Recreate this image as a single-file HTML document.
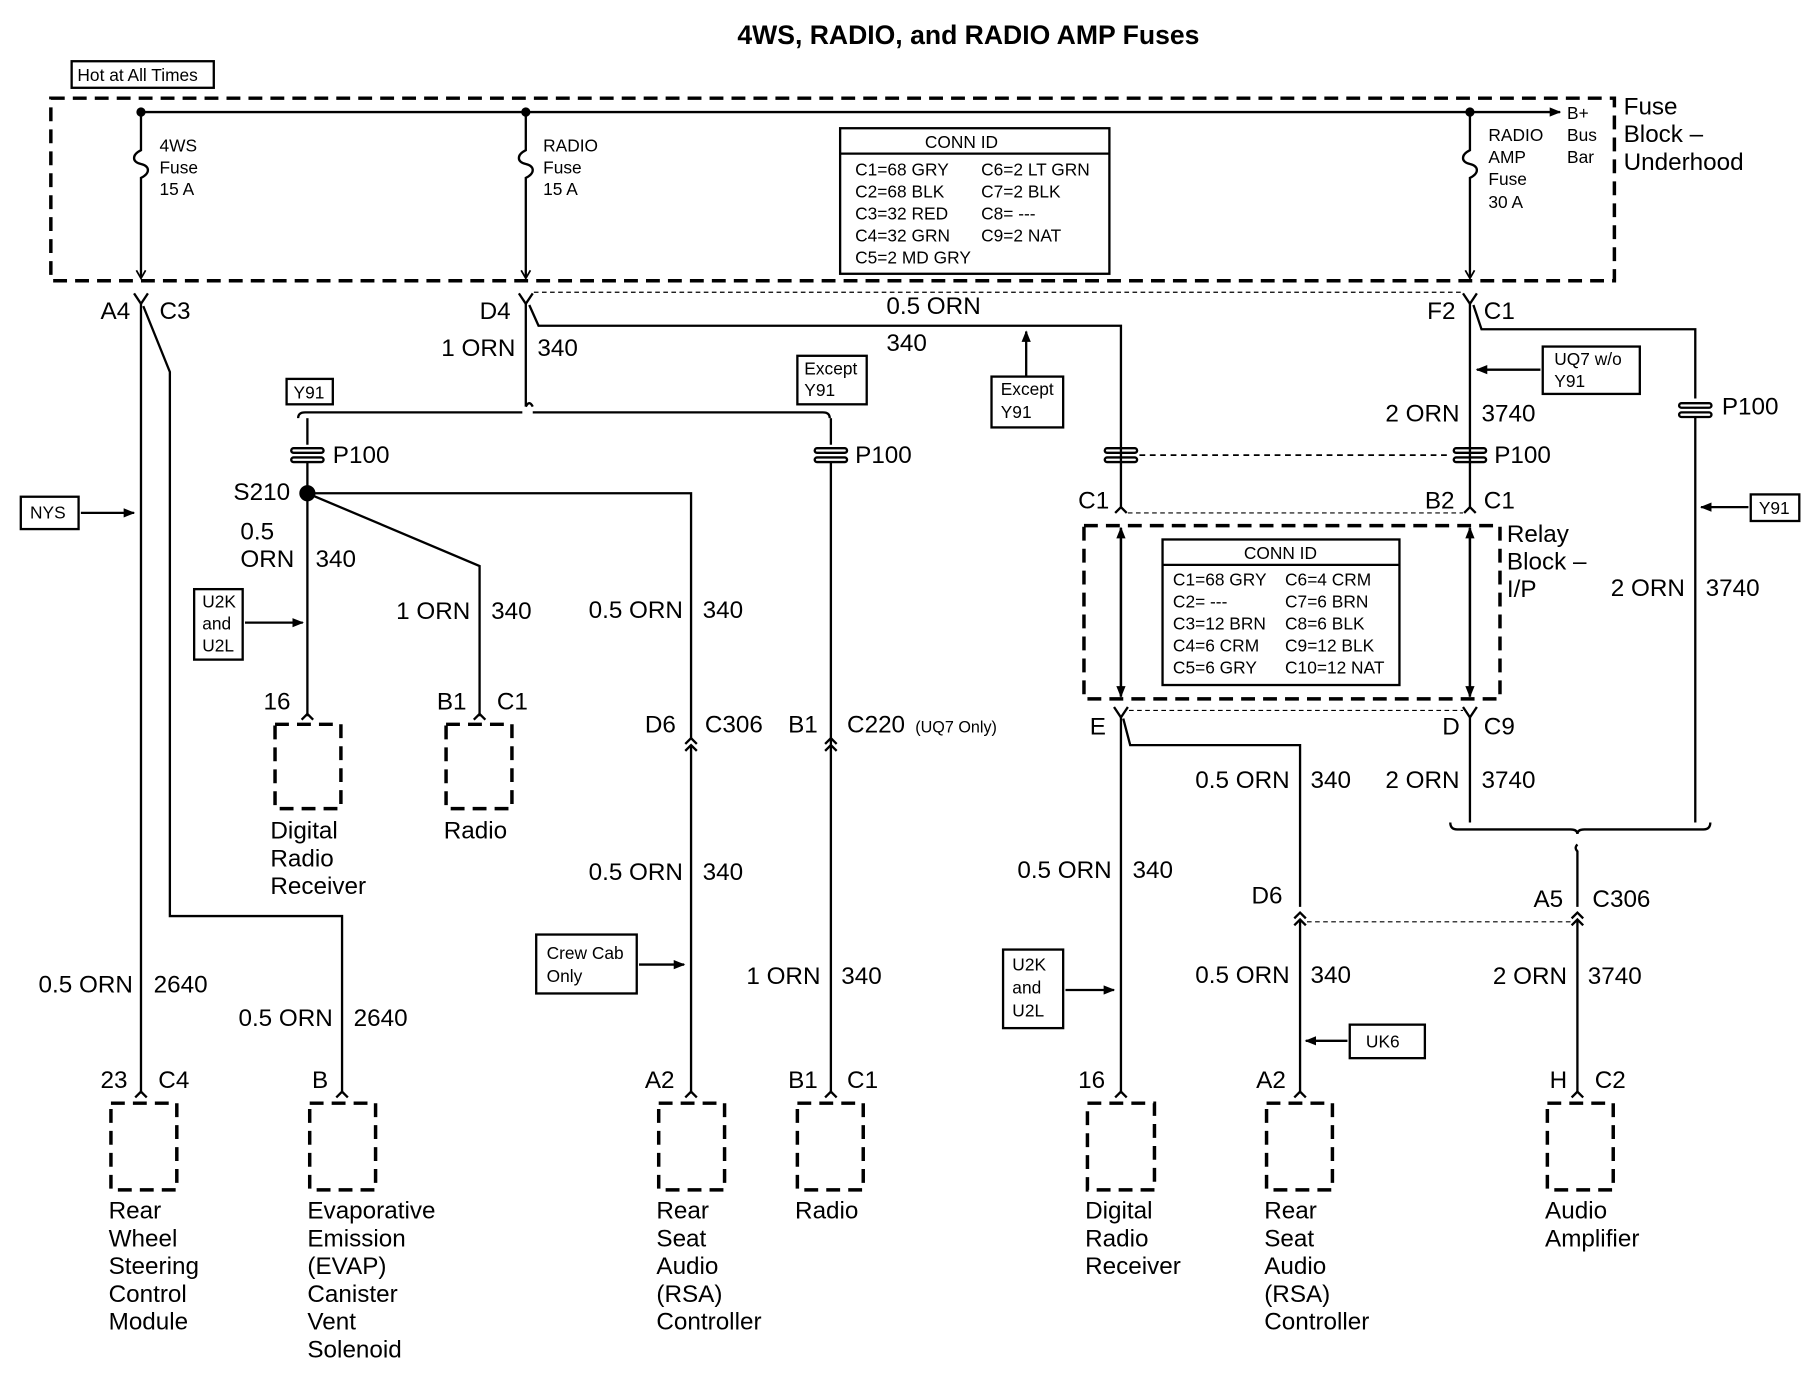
<!DOCTYPE html>
<html><head><meta charset="utf-8"><style>
html,body{margin:0;padding:0;background:#fff}
svg{display:block}
text{font-family:"Liberation Sans",sans-serif;fill:#000}
.b{font-size:21px}.s{font-size:15px}.t{font-size:14px}
</style></head><body>
<svg width="1812" height="1392" viewBox="0 0 1568 1205" preserveAspectRatio="none" xmlns="http://www.w3.org/2000/svg">
<defs>
<marker id="ar" markerWidth="10" markerHeight="10" refX="9" refY="5" orient="auto" markerUnits="userSpaceOnUse"><path d="M0,1 L10,5 L0,9 z" fill="#000"/></marker>
</defs>
<g stroke="#000" fill="none" stroke-width="2">
<text x="838" y="38" text-anchor="middle" style="font-size:23px;font-weight:bold" stroke="none">4WS, RADIO, and RADIO AMP Fuses</text>
<rect x="62" y="53" width="123" height="23" stroke-width="2"/>
<rect x="44" y="85" width="1353" height="158" stroke-width="3" stroke-dasharray="12,7"/>
<line x1="122" y1="97" x2="1350" y2="97" marker-end="url(#ar)"/>
<circle cx="122" cy="97" r="3" fill="#000"/><circle cx="455" cy="97" r="3" fill="#000"/><circle cx="1272" cy="97" r="3" fill="#000"/>
<path d="M122,97 V130 c-8,4 -8,10 0,12 c8,2 8,8 0,12 V240"/>
<path d="M455,97 V130 c-8,4 -8,10 0,12 c8,2 8,8 0,12 V240"/>
<path d="M1272,97 V130 c-8,4 -8,10 0,12 c8,2 8,8 0,12 V240"/>
<path d="M118,234 L122,241 L126,234 M451,234 L455,241 L459,234 M1268,234 L1272,241 L1276,234" stroke-width="1.5"/>
<rect x="727" y="111" width="233" height="126"/><line x1="727" y1="133" x2="960" y2="133"/>
<path d="M116,254 L122,263 L128,254"/>
<line x1="122" y1="263" x2="122" y2="945"/>
<path d="M124,265 L147,322 V793 H296 V945"/>
<rect x="18" y="430" width="50" height="28"/><line x1="70" y1="444" x2="116" y2="444" marker-end="url(#ar)"/>
<path d="M449,254 L455,263 L461,254"/>
<line x1="455" y1="263" x2="455" y2="352"/>
<path d="M455,352 q3,-6 6,0"/>
<path d="M458,264 L466,282 H970 V440"/>
<line x1="462" y1="253" x2="1266" y2="253" stroke-width="1" stroke-dasharray="4,3"/>
<rect x="858" y="326" width="62" height="44"/><line x1="888" y1="326" x2="888" y2="287" marker-end="url(#ar)"/>
<path d="M258,362 q0,-5 6,-5 H452 M461,357 H712 q6,0 6,5"/>
<rect x="248" y="328" width="40" height="22"/><rect x="690" y="308" width="60" height="42"/>
<line x1="266" y1="362" x2="266" y2="385"/>
<rect x="252" y="388" width="28" height="4" rx="2"/><rect x="252" y="396" width="28" height="4" rx="2"/>
<line x1="266" y1="400" x2="266" y2="620"/>
<circle cx="266" cy="427" r="6" fill="#000"/>
<path d="M266,427 H598 V640"/>
<path d="M266,427 L415,490 V620"/>
<rect x="168" y="510" width="42" height="61"/><line x1="212" y1="539" x2="262" y2="539" marker-end="url(#ar)"/>
<path d="M261,623 L266,618 L271,623 M410,623 L415,618 L420,623"/>
<rect x="238" y="627" width="57" height="73" stroke-width="3" stroke-dasharray="12,7"/>
<rect x="386" y="627" width="57" height="73" stroke-width="3" stroke-dasharray="12,7"/>
<path d="M593,644 L598,639 L603,644 M593,650 L598,645 L603,650"/>
<line x1="598" y1="645" x2="598" y2="945"/>
<rect x="464" y="809" width="87" height="51"/><line x1="553" y1="835" x2="592" y2="835" marker-end="url(#ar)"/>
<line x1="719" y1="362" x2="719" y2="385"/>
<rect x="705" y="388" width="28" height="4" rx="2"/><rect x="705" y="396" width="28" height="4" rx="2"/>
<line x1="719" y1="400" x2="719" y2="945"/>
<path d="M714,644 L719,639 L724,644 M714,650 L719,645 L724,650"/>
<path d="M117,950 L122,945 L127,950 M291,950 L296,945 L301,950 M593,950 L598,945 L603,950 M714,950 L719,945 L724,950 M965,950 L970,945 L975,950 M1120,950 L1125,945 L1130,950 M1360,950 L1365,945 L1370,950"/>
<rect x="96" y="955" width="57" height="75" stroke-width="3" stroke-dasharray="12,7"/>
<rect x="268" y="955" width="57" height="75" stroke-width="3" stroke-dasharray="12,7"/>
<rect x="570" y="955" width="57" height="75" stroke-width="3" stroke-dasharray="12,7"/>
<rect x="690" y="955" width="57" height="75" stroke-width="3" stroke-dasharray="12,7"/>
<rect x="941" y="955" width="58" height="75" stroke-width="3" stroke-dasharray="12,7"/>
<rect x="1096" y="955" width="57" height="75" stroke-width="3" stroke-dasharray="12,7"/>
<rect x="1339" y="955" width="57" height="75" stroke-width="3" stroke-dasharray="12,7"/>
<rect x="956" y="388" width="28" height="4" rx="2"/><rect x="956" y="396" width="28" height="4" rx="2"/>
<rect x="1258" y="388" width="28" height="4" rx="2"/><rect x="1258" y="396" width="28" height="4" rx="2"/>
<line x1="986" y1="394" x2="1256" y2="394" stroke-dasharray="5,4" stroke-width="1.5"/>
<line x1="1272" y1="263" x2="1272" y2="440"/>
<path d="M1266,254 L1272,263 L1278,254"/>
<path d="M1275,264 L1282,285 H1467 V345"/>
<rect x="1453" y="349" width="28" height="4" rx="2"/><rect x="1453" y="357" width="28" height="4" rx="2"/>
<line x1="1467" y1="361" x2="1467" y2="712"/>
<rect x="1335" y="300" width="84" height="41"/><line x1="1333" y1="320" x2="1278" y2="320" marker-end="url(#ar)"/>
<rect x="1515" y="428" width="42" height="23"/><line x1="1513" y1="439" x2="1472" y2="439" marker-end="url(#ar)"/>
<path d="M965,444 L970,439 L975,444 M1267,444 L1272,439 L1277,444"/>
<line x1="976" y1="444" x2="1266" y2="444" stroke-width="1" stroke-dasharray="4,3"/>
<rect x="938" y="455" width="360" height="150" stroke-width="3" stroke-dasharray="12,7"/>
<line x1="970" y1="457" x2="970" y2="603" marker-end="url(#ar)"/><line x1="970" y1="603" x2="970" y2="457" marker-end="url(#ar)"/>
<line x1="1272" y1="457" x2="1272" y2="603" marker-end="url(#ar)"/><line x1="1272" y1="603" x2="1272" y2="457" marker-end="url(#ar)"/>
<rect x="1006" y="467" width="205" height="126"/><line x1="1006" y1="489" x2="1211" y2="489"/>
<path d="M964,612 L970,621 L976,612 M1266,612 L1272,621 L1278,612"/>
<line x1="977" y1="615" x2="1266" y2="615" stroke-width="1" stroke-dasharray="4,3"/>
<line x1="970" y1="621" x2="970" y2="945"/>
<path d="M972,622 L978,645 H1125 V785"/>
<rect x="868" y="822" width="52" height="68"/><line x1="922" y1="857" x2="964" y2="857" marker-end="url(#ar)"/>
<path d="M1120,795 L1125,790 L1130,795 M1120,801 L1125,796 L1130,801"/>
<line x1="1125" y1="796" x2="1125" y2="945"/>
<line x1="1131" y1="798" x2="1360" y2="798" stroke-width="1" stroke-dasharray="4,3"/>
<rect x="1168" y="887" width="65" height="29"/><line x1="1166" y1="901" x2="1130" y2="901" marker-end="url(#ar)"/>
<line x1="1272" y1="621" x2="1272" y2="712"/>
<path d="M1255,712 q0,6 6,6 H1359 q6,0 6,4 q0,-4 6,-4 H1474 q6,0 6,-6"/>
<path d="M1365,731 q-3,3 0,6 V785"/>
<path d="M1360,795 L1365,790 L1370,795 M1360,801 L1365,796 L1370,801"/>
<line x1="1365" y1="796" x2="1365" y2="945"/>
</g>
<g>
<text x="67" y="70" class="s">Hot at All Times</text>
<text x="138" y="131" class="s">4WS</text><text x="138" y="150" class="s">Fuse</text><text x="138" y="169" class="s">15 A</text>
<text x="470" y="131" class="s">RADIO</text><text x="470" y="150" class="s">Fuse</text><text x="470" y="169" class="s">15 A</text>
<text x="1288" y="122" class="s">RADIO</text><text x="1288" y="141" class="s">AMP</text><text x="1288" y="160" class="s">Fuse</text><text x="1288" y="180" class="s">30 A</text>
<text x="1356" y="103" class="s">B+</text><text x="1356" y="122" class="s">Bus</text><text x="1356" y="141" class="s">Bar</text>
<text x="1405" y="99" class="b">Fuse</text><text x="1405" y="123" class="b">Block –</text><text x="1405" y="147" class="b">Underhood</text>
<text x="832" y="128" class="s" text-anchor="middle">CONN ID</text>
<text x="740" y="152" class="s">C1=68 GRY</text><text x="740" y="171" class="s">C2=68 BLK</text><text x="740" y="190" class="s">C3=32 RED</text><text x="740" y="209" class="s">C4=32 GRN</text><text x="740" y="228" class="s">C5=2 MD GRY</text>
<text x="849" y="152" class="s">C6=2 LT GRN</text><text x="849" y="171" class="s">C7=2 BLK</text><text x="849" y="190" class="s">C8= ---</text><text x="849" y="209" class="s">C9=2 NAT</text>
<text x="87" y="276" class="b">A4</text><text x="138" y="276" class="b">C3</text>
<text x="415" y="276" class="b">D4</text>
<text x="767" y="272" class="b">0.5 ORN</text><text x="767" y="304" class="b">340</text>
<text x="446" y="308" class="b" text-anchor="end">1 ORN</text><text x="465" y="308" class="b">340</text>
<text x="254" y="345" class="s">Y91</text>
<text x="696" y="324" class="s">Except</text><text x="696" y="343" class="s">Y91</text>
<text x="866" y="342" class="s">Except</text><text x="866" y="362" class="s">Y91</text>
<text x="288" y="401" class="b">P100</text><text x="740" y="401" class="b">P100</text>
<text x="202" y="433" class="b">S210</text>
<text x="26" y="449" class="s">NYS</text>
<text x="208" y="467" class="b">0.5</text><text x="208" y="491" class="b">ORN</text><text x="273" y="491" class="b">340</text>
<text x="175" y="526" class="s">U2K</text><text x="175" y="545" class="s">and</text><text x="175" y="564" class="s">U2L</text>
<text x="407" y="536" class="b" text-anchor="end">1 ORN</text><text x="425" y="536" class="b">340</text>
<text x="591" y="535" class="b" text-anchor="end">0.5 ORN</text><text x="608" y="535" class="b">340</text>
<text x="228" y="614" class="b">16</text>
<text x="378" y="614" class="b">B1</text><text x="430" y="614" class="b">C1</text>
<text x="234" y="726" class="b">Digital</text><text x="234" y="750" class="b">Radio</text><text x="234" y="774" class="b">Receiver</text>
<text x="384" y="726" class="b">Radio</text>
<text x="558" y="634" class="b">D6</text><text x="610" y="634" class="b">C306</text>
<text x="682" y="634" class="b">B1</text><text x="733" y="634" class="b">C220</text><text x="792" y="634" class="t">(UQ7 Only)</text>
<text x="591" y="762" class="b" text-anchor="end">0.5 ORN</text><text x="608" y="762" class="b">340</text>
<text x="473" y="830" class="s">Crew Cab</text><text x="473" y="850" class="s">Only</text>
<text x="115" y="859" class="b" text-anchor="end">0.5 ORN</text><text x="133" y="859" class="b">2640</text>
<text x="288" y="888" class="b" text-anchor="end">0.5 ORN</text><text x="306" y="888" class="b">2640</text>
<text x="710" y="852" class="b" text-anchor="end">1 ORN</text><text x="728" y="852" class="b">340</text>
<text x="87" y="942" class="b">23</text><text x="137" y="942" class="b">C4</text>
<text x="270" y="942" class="b">B</text>
<text x="558" y="942" class="b">A2</text>
<text x="682" y="942" class="b">B1</text><text x="733" y="942" class="b">C1</text>
<text x="933" y="942" class="b">16</text>
<text x="1087" y="942" class="b">A2</text>
<text x="1341" y="942" class="b">H</text><text x="1380" y="942" class="b">C2</text>
<text x="94" y="1055" class="b">Rear</text><text x="94" y="1079" class="b">Wheel</text><text x="94" y="1103" class="b">Steering</text><text x="94" y="1127" class="b">Control</text><text x="94" y="1151" class="b">Module</text>
<text x="266" y="1055" class="b">Evaporative</text><text x="266" y="1079" class="b">Emission</text><text x="266" y="1103" class="b">(EVAP)</text><text x="266" y="1127" class="b">Canister</text><text x="266" y="1151" class="b">Vent</text><text x="266" y="1175" class="b">Solenoid</text>
<text x="568" y="1055" class="b">Rear</text><text x="568" y="1079" class="b">Seat</text><text x="568" y="1103" class="b">Audio</text><text x="568" y="1127" class="b">(RSA)</text><text x="568" y="1151" class="b">Controller</text>
<text x="688" y="1055" class="b">Radio</text>
<text x="939" y="1055" class="b">Digital</text><text x="939" y="1079" class="b">Radio</text><text x="939" y="1103" class="b">Receiver</text>
<text x="1094" y="1055" class="b">Rear</text><text x="1094" y="1079" class="b">Seat</text><text x="1094" y="1103" class="b">Audio</text><text x="1094" y="1127" class="b">(RSA)</text><text x="1094" y="1151" class="b">Controller</text>
<text x="1337" y="1055" class="b">Audio</text><text x="1337" y="1079" class="b">Amplifier</text>
<text x="1235" y="276" class="b">F2</text><text x="1284" y="276" class="b">C1</text>
<text x="1345" y="316" class="s">UQ7 w/o</text><text x="1345" y="335" class="s">Y91</text>
<text x="1263" y="365" class="b" text-anchor="end">2 ORN</text><text x="1282" y="365" class="b">3740</text>
<text x="1293" y="401" class="b">P100</text><text x="1490" y="359" class="b">P100</text>
<text x="933" y="440" class="b">C1</text><text x="1233" y="440" class="b">B2</text><text x="1284" y="440" class="b">C1</text>
<text x="1522" y="445" class="s">Y91</text>
<text x="1304" y="469" class="b">Relay</text><text x="1304" y="493" class="b">Block –</text><text x="1304" y="517" class="b">I/P</text>
<text x="1458" y="516" class="b" text-anchor="end">2 ORN</text><text x="1476" y="516" class="b">3740</text>
<text x="1108" y="484" class="s" text-anchor="middle">CONN ID</text>
<text x="1015" y="507" class="s">C1=68 GRY</text><text x="1015" y="526" class="s">C2= ---</text><text x="1015" y="545" class="s">C3=12 BRN</text><text x="1015" y="564" class="s">C4=6 CRM</text><text x="1015" y="583" class="s">C5=6 GRY</text>
<text x="1112" y="507" class="s">C6=4 CRM</text><text x="1112" y="526" class="s">C7=6 BRN</text><text x="1112" y="545" class="s">C8=6 BLK</text><text x="1112" y="564" class="s">C9=12 BLK</text><text x="1112" y="583" class="s">C10=12 NAT</text>
<text x="943" y="636" class="b">E</text><text x="1248" y="636" class="b">D</text><text x="1284" y="636" class="b">C9</text>
<text x="1116" y="682" class="b" text-anchor="end">0.5 ORN</text><text x="1134" y="682" class="b">340</text>
<text x="1263" y="682" class="b" text-anchor="end">2 ORN</text><text x="1282" y="682" class="b">3740</text>
<text x="962" y="760" class="b" text-anchor="end">0.5 ORN</text><text x="980" y="760" class="b">340</text>
<text x="1083" y="782" class="b">D6</text>
<text x="1327" y="785" class="b">A5</text><text x="1378" y="785" class="b">C306</text>
<text x="1116" y="851" class="b" text-anchor="end">0.5 ORN</text><text x="1134" y="851" class="b">340</text>
<text x="1356" y="852" class="b" text-anchor="end">2 ORN</text><text x="1374" y="852" class="b">3740</text>
<text x="876" y="840" class="s">U2K</text><text x="876" y="860" class="s">and</text><text x="876" y="880" class="s">U2L</text>
<text x="1182" y="907" class="s">UK6</text>
</g>
</svg>
</body></html>
